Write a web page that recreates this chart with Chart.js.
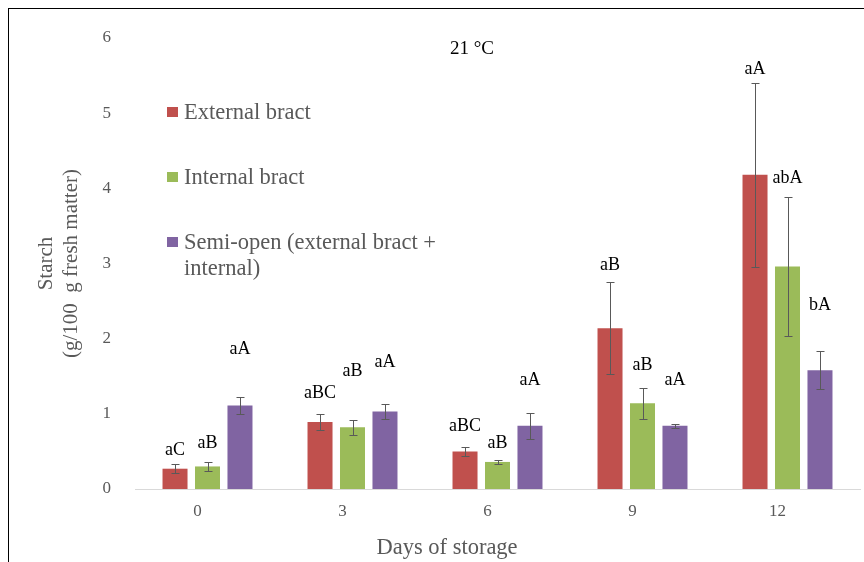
<!DOCTYPE html>
<html>
<head>
<meta charset="utf-8">
<script src="https://cdn.jsdelivr.net/npm/chart.js@4"></script>
<style>
  html, body { margin: 0; padding: 0; background: #fff; }
  #wrap { position: relative; width: 864px; height: 562px; }
  #frame { position: absolute; left: 8px; top: 8px; width: 870px; height: 570px;
           border-left: 1px solid #000; border-top: 1px solid #000; pointer-events: none; }
</style>
</head>
<body>
<div id="wrap">
  <canvas id="myChart" width="864" height="562"></canvas>
  <div id="frame"></div>
</div>
<script>
// days of storage
let days = ["0", "3", "6", "9", "12"];

// starch, g/100 g fresh matter
let external_bract = [0.27, 0.89, 0.50, 2.14, 4.18];
let internal_bract = [0.30, 0.82, 0.36, 1.14, 2.96];
let semi_open = [1.11, 1.03, 0.84, 0.84, 1.58];

// error bar half-lengths
let external_err = [0.06, 0.11, 0.06, 0.61, 1.22];
let internal_err = [0.06, 0.10, 0.03, 0.21, 0.92];
let semi_err = [0.11, 0.10, 0.17, 0.03, 0.25];

// significance letters and the value they sit at
let external_letters = ["aC", "aBC", "aBC", "aB", "aA"];
let internal_letters = ["aB", "aB", "aB", "aB", "abA"];
let semi_letters = ["aA", "aA", "aA", "aA", "bA"];
let external_letter_y = [0.52, 1.28, 0.83, 2.98, 5.59];
let internal_letter_y = [0.61, 1.56, 0.61, 1.65, 4.13];
let semi_letter_y = [1.86, 1.69, 1.45, 1.45, 2.45];

let y_ticks = [0, 1, 2, 3, 4, 5, 6];

const SERIF = "'Liberation Serif', 'Times New Roman', serif";

function bar_set(name, values, color, errs, letters, letter_y) {
    return {
        label: name,
        data: values,
        backgroundColor: color,
        borderWidth: 0,
        errors: errs,
        letters: letters,
        letter_y: letter_y,
        categoryPercentage: 0.672,
        barPercentage: 0.77
    };
}

/** error bars, significance letters, titles and the in-plot legend */
const extras = {
    id: 'extras',
    afterDatasetsDraw(chart) {
        const ctx = chart.ctx;
        const y = chart.scales.y;
        ctx.save();
        chart.data.datasets.forEach((ds, i) => {
            const meta = chart.getDatasetMeta(i);
            meta.data.forEach((bar, j) => {
                const v = ds.data[j], e = ds.errors[j];
                const top = Math.round(y.getPixelForValue(v + e)) + 0.5;
                const bot = Math.round(y.getPixelForValue(v - e)) + 0.5;
                const x = Math.round(bar.x) + 0.5;
                ctx.strokeStyle = '#595959';
                ctx.lineWidth = 1;
                ctx.beginPath();
                ctx.moveTo(x, top); ctx.lineTo(x, bot);
                ctx.moveTo(x - 4, top); ctx.lineTo(x + 4, top);
                ctx.moveTo(x - 4, bot); ctx.lineTo(x + 4, bot);
                ctx.stroke();

                ctx.fillStyle = '#000';
                ctx.font = '18px ' + SERIF;
                ctx.textAlign = 'center';
                ctx.textBaseline = 'middle';
                ctx.fillText(ds.letters[j], bar.x, y.getPixelForValue(ds.letter_y[j]));
            });
        });

        // panel title
        ctx.fillStyle = '#000';
        ctx.font = '19px ' + SERIF;
        ctx.textAlign = 'center';
        ctx.textBaseline = 'middle';
        ctx.fillText('21 °C', 472, 49);

        // x axis title
        ctx.fillStyle = '#595959';
        ctx.font = '22.5px ' + SERIF;
        ctx.fillText('Days of storage', 447, 548);

        // legend
        const rows = [[112], [177], [242, 268]];
        const lines = [["External bract"], ["Internal bract"],
                       ["Semi-open (external bract +", "internal)"]];
        ctx.font = '22.5px ' + SERIF;
        ctx.textAlign = 'left';
        chart.data.datasets.forEach((ds, i) => {
            ctx.fillStyle = ds.backgroundColor;
            ctx.fillRect(167, rows[i][0] - 5, 11, 10);
            ctx.fillStyle = '#595959';
            lines[i].forEach((t, k) => ctx.fillText(t, 184, rows[i][k] + 1));
        });
        ctx.restore();
    }
};

let ctx = document.getElementById('myChart').getContext('2d');
let myChart = new Chart(ctx, {
    type: 'bar',
    data: {
        labels: days,
        datasets: [
            bar_set("External bract", external_bract, '#C0504D', external_err, external_letters, external_letter_y),
            bar_set("Internal bract", internal_bract, '#9BBB59', internal_err, internal_letters, internal_letter_y),
            bar_set("Semi-open (external bract + internal)", semi_open, '#8064A2', semi_err, semi_letters, semi_letter_y)
        ]
    },
    options: {
        responsive: false,
        animation: false,
        layout: { padding: { left: 20, right: 4, top: 38, bottom: 0 } },
        plugins: {
            legend: { display: false },
            tooltip: { enabled: false }
        },
        scales: {
            x: {
                grid: { display: false, drawTicks: false },
                border: { color: '#D9D9D9', width: 1 },
                ticks: { color: '#595959', font: { family: SERIF, size: 17 }, padding: 12, labelOffset: -10 },
                afterFit(scale) { scale.height = 73; }
            },
            y: {
                min: 0, max: 6,
                afterBuildTicks(scale) { scale.ticks = y_ticks.map(v => ({ value: v })); },
                grid: { display: false, drawTicks: false },
                border: { display: false },
                ticks: { color: '#595959', font: { family: SERIF, size: 17 }, padding: 24 },
                title: {
                    display: true, text: ['Starch', '(g/100  g fresh matter)'], color: '#595959',
                    font: { family: SERIF, size: 21, lineHeight: 1.19 }, padding: { top: 14, bottom: 0 }
                },
                afterFit(scale) { scale.width = 115; }
            }
        }
    },
    plugins: [extras]
});
</script>
</body>
</html>
